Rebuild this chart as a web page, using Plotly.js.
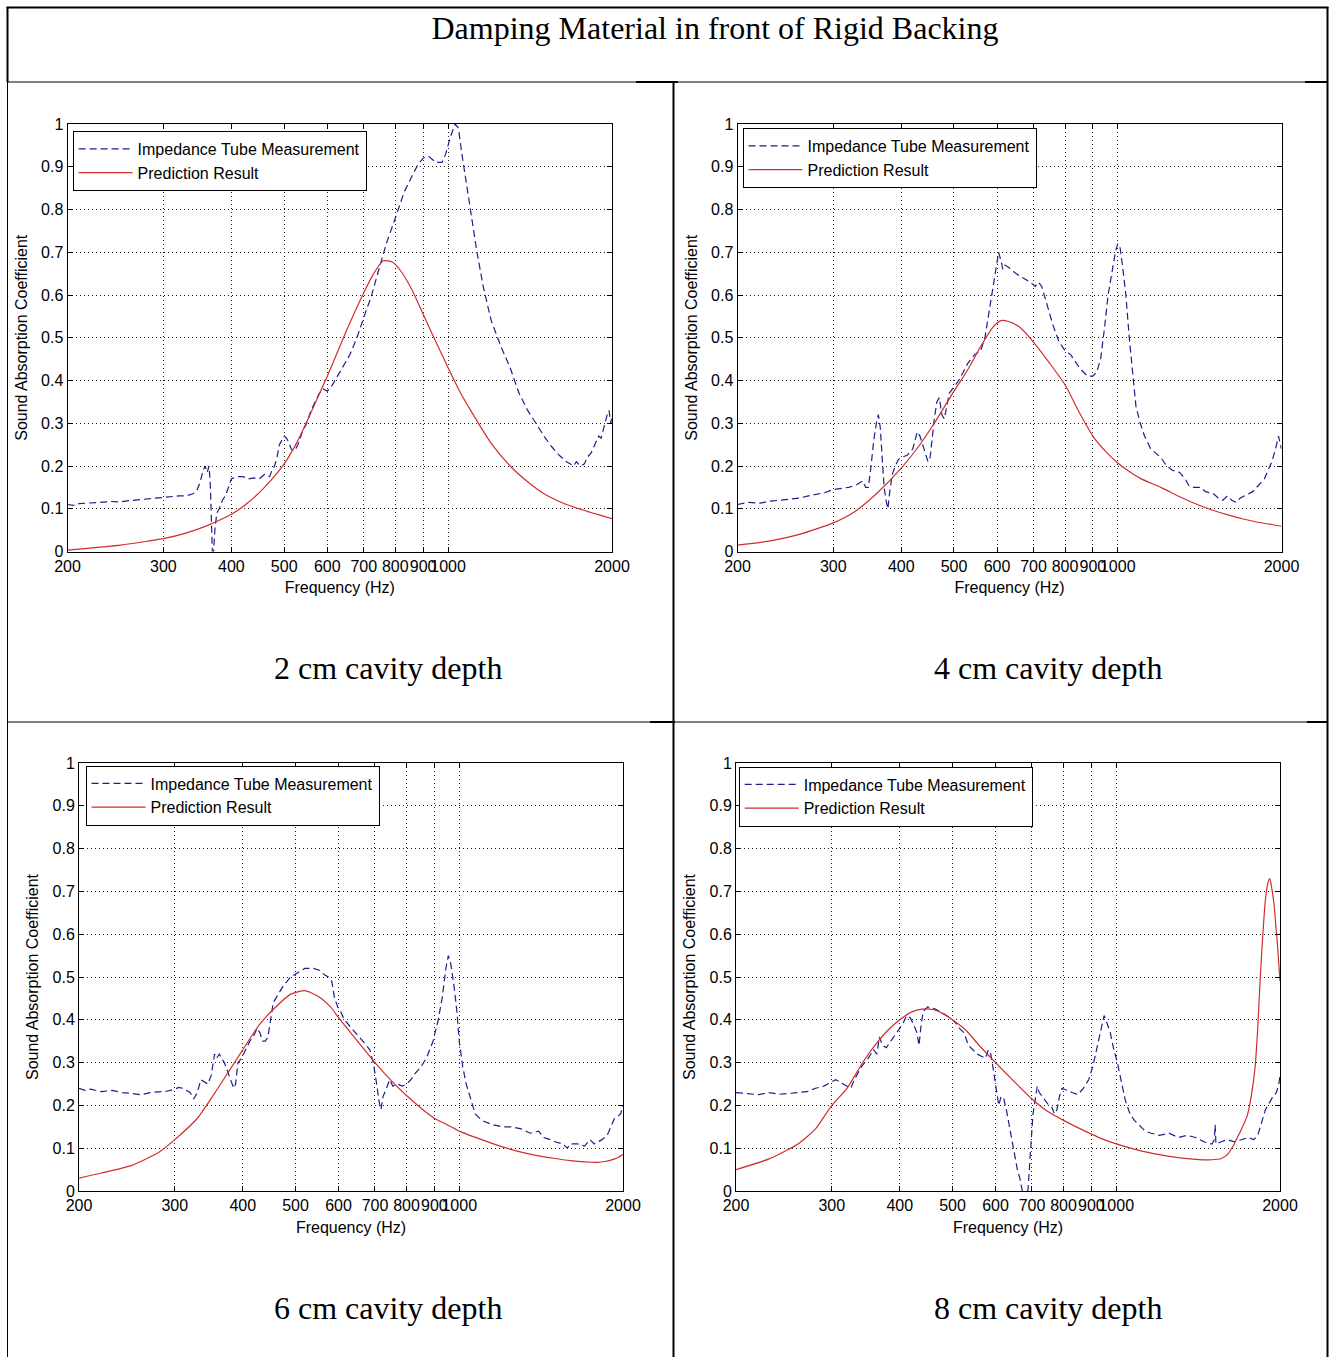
<!DOCTYPE html>
<html><head><meta charset="utf-8">
<script src="https://cdn.plot.ly/plotly-3.0.1.min.js"></script>
<style>html,body{margin:0;padding:0;background:#fff}#chart{width:1331px;height:1357px}</style>
</head><body><div id="chart"></div>
<script>
// ---------- text ----------
const mainTitle = 'Damping Material in front of Rigid Backing';
const captions = ['2 cm cavity depth', '4 cm cavity depth', '6 cm cavity depth', '8 cm cavity depth'];
const seriesNames = ['Impedance Tube Measurement', 'Prediction Result'];
const xTitle = 'Frequency (Hz)';
const yTitle = 'Sound Absorption Coefficient';
const xTickVals = [200, 300, 400, 500, 600, 700, 800, 900, 1000, 2000];
const xTickText = ['200', '300', '400', '500', '600', '700', '800', '900', '1000', '2000'];
const yTickVals = [0, 0.1, 0.2, 0.3, 0.4, 0.5, 0.6, 0.7, 0.8, 0.9, 1];
const yTickText = ['0', '0.1', '0.2', '0.3', '0.4', '0.5', '0.6', '0.7', '0.8', '0.9', '1'];

// ---------- 2 cm ----------
const f2Meas = [200,205,210,220,230,240,250,260,270,280,290,300,310,320,330,340,345,350,355,358,361,364,366,368,369,371,373,376,380,385,390,395,400,410,420,430,440,450,460,470,475,480,485,490,500,505,510,515,520,525,530,540,550,560,570,580,590,600,610,620,640,660,680,700,710,720,735,750,770,800,830,860,880,900,920,950,975,990,1010,1030,1045,1060,1080,1100,1130,1160,1200,1250,1300,1350,1400,1450,1500,1550,1600,1650,1700,1720,1750,1780,1800,1830,1860,1890,1910,1930,1960,1975,1990,2000];
const a2Meas = [0.11,0.108,0.112,0.113,0.115,0.117,0.116,0.119,0.121,0.122,0.125,0.126,0.127,0.13,0.13,0.135,0.14,0.16,0.19,0.2,0.185,0.2,0.15,0.05,0.0,0.0,0.05,0.09,0.1,0.12,0.13,0.15,0.17,0.175,0.175,0.17,0.172,0.17,0.18,0.175,0.19,0.2,0.22,0.25,0.27,0.265,0.255,0.24,0.235,0.24,0.25,0.28,0.3,0.33,0.35,0.37,0.38,0.375,0.385,0.4,0.43,0.46,0.5,0.55,0.57,0.59,0.63,0.67,0.72,0.78,0.84,0.88,0.905,0.92,0.925,0.91,0.91,0.93,0.97,1.0,0.99,0.93,0.86,0.79,0.7,0.62,0.54,0.48,0.43,0.37,0.33,0.3,0.27,0.245,0.225,0.21,0.2,0.21,0.2,0.205,0.22,0.23,0.25,0.27,0.265,0.29,0.32,0.33,0.3,0.32];
const f2Pred = [200,220,250,280,300,330,360,400,430,460,500,530,560,600,650,700,730,760,790,820,860,900,950,1000,1050,1100,1200,1300,1400,1500,1600,1700,1800,1900,2000];
const a2Pred = [0.003,0.008,0.015,0.024,0.03,0.043,0.06,0.087,0.115,0.15,0.205,0.26,0.325,0.41,0.515,0.605,0.65,0.68,0.677,0.655,0.61,0.555,0.49,0.43,0.375,0.33,0.253,0.2,0.163,0.135,0.117,0.104,0.094,0.085,0.077];

// ---------- 4 cm ----------
const f4Meas = [200,210,220,230,240,250,260,270,280,290,300,310,320,330,335,340,344,348,352,356,360,363,366,369,372,375,378,381,385,390,395,400,410,420,428,433,438,443,448,452,456,460,465,470,475,480,485,490,500,510,520,530,545,560,570,580,590,598,604,610,615,620,630,650,670,690,705,715,725,740,760,780,800,820,850,880,900,915,930,945,960,975,990,1000,1010,1020,1035,1050,1065,1080,1100,1120,1150,1175,1200,1230,1260,1300,1330,1350,1380,1420,1450,1500,1530,1560,1590,1620,1650,1680,1710,1740,1770,1800,1830,1860,1890,1920,1950,1975,1990,2000];
const a4Meas = [0.11,0.115,0.113,0.118,0.12,0.122,0.125,0.13,0.135,0.138,0.145,0.148,0.15,0.155,0.16,0.165,0.15,0.15,0.2,0.26,0.3,0.32,0.29,0.22,0.15,0.12,0.1,0.14,0.18,0.2,0.215,0.22,0.225,0.24,0.28,0.27,0.25,0.23,0.21,0.22,0.27,0.31,0.35,0.36,0.32,0.31,0.34,0.37,0.385,0.4,0.42,0.44,0.46,0.47,0.5,0.56,0.62,0.67,0.7,0.68,0.66,0.67,0.665,0.65,0.64,0.63,0.62,0.63,0.62,0.58,0.53,0.49,0.47,0.46,0.43,0.41,0.41,0.42,0.45,0.52,0.6,0.65,0.7,0.72,0.71,0.67,0.6,0.5,0.42,0.34,0.3,0.27,0.24,0.23,0.22,0.2,0.19,0.185,0.17,0.155,0.15,0.15,0.14,0.135,0.125,0.12,0.13,0.12,0.115,0.125,0.13,0.135,0.14,0.15,0.16,0.17,0.19,0.21,0.24,0.27,0.25,0.24];
const f4Pred = [200,230,260,300,330,360,400,430,460,500,530,560,590,610,630,660,700,750,800,850,900,950,1000,1050,1100,1200,1300,1400,1500,1600,1700,1800,1900,2000];
const a4Pred = [0.015,0.025,0.04,0.067,0.095,0.135,0.195,0.245,0.3,0.375,0.425,0.48,0.525,0.54,0.538,0.525,0.49,0.44,0.39,0.325,0.27,0.234,0.207,0.187,0.171,0.15,0.128,0.11,0.096,0.085,0.076,0.069,0.064,0.059];

// ---------- 6 cm ----------
const f6Meas = [200,205,210,220,230,240,250,260,270,280,290,300,305,310,315,320,325,330,335,340,345,350,355,358,362,366,370,375,380,385,388,392,398,405,412,418,425,430,435,440,445,450,455,465,475,490,505,520,540,555,565,575,583,590,598,605,615,630,650,670,685,695,705,712,718,724,735,745,755,770,785,800,815,830,850,870,895,915,930,945,955,965,978,990,1000,1015,1030,1050,1070,1100,1150,1200,1250,1300,1350,1400,1430,1470,1500,1550,1580,1600,1650,1700,1740,1770,1800,1830,1870,1900,1930,1960,1980,2000];
const a6Meas = [0.24,0.235,0.238,0.232,0.235,0.23,0.228,0.225,0.23,0.232,0.233,0.238,0.242,0.24,0.235,0.23,0.215,0.23,0.26,0.255,0.25,0.27,0.32,0.31,0.32,0.31,0.3,0.28,0.26,0.24,0.25,0.3,0.31,0.33,0.35,0.36,0.38,0.37,0.35,0.35,0.36,0.4,0.44,0.46,0.48,0.5,0.51,0.52,0.52,0.515,0.505,0.5,0.49,0.45,0.43,0.42,0.4,0.385,0.365,0.345,0.33,0.3,0.25,0.21,0.19,0.22,0.24,0.26,0.245,0.25,0.245,0.25,0.26,0.275,0.29,0.31,0.35,0.4,0.45,0.52,0.55,0.53,0.48,0.42,0.35,0.29,0.25,0.215,0.18,0.165,0.155,0.15,0.15,0.145,0.135,0.14,0.125,0.12,0.115,0.11,0.1,0.11,0.11,0.105,0.12,0.11,0.115,0.12,0.13,0.15,0.17,0.175,0.18,0.2];
const f6Pred = [200,220,250,280,300,330,360,400,430,460,490,520,550,580,600,650,700,750,800,850,900,950,1000,1100,1200,1300,1400,1500,1600,1700,1800,1850,1900,1950,2000];
const a6Pred = [0.03,0.042,0.06,0.09,0.12,0.17,0.24,0.33,0.39,0.43,0.46,0.468,0.455,0.43,0.405,0.35,0.3,0.258,0.223,0.194,0.17,0.155,0.14,0.12,0.103,0.091,0.082,0.076,0.071,0.068,0.067,0.069,0.072,0.077,0.085];

// ---------- 8 cm ----------
const f8Meas = [200,210,220,230,240,250,260,270,280,290,300,305,310,315,320,325,330,340,350,358,363,367,372,378,385,395,405,412,418,424,430,434,438,442,450,465,480,495,505,515,525,535,545,555,565,575,582,588,595,602,608,614,620,628,638,648,658,665,672,688,693,698,703,710,716,722,732,742,752,762,770,778,786,795,810,830,850,870,890,905,920,935,950,960,975,990,1005,1020,1040,1060,1080,1100,1130,1160,1200,1250,1300,1350,1400,1450,1480,1500,1515,1520,1525,1560,1600,1650,1700,1750,1790,1820,1850,1880,1910,1940,1970,1990,2000];
const a8Meas = [0.23,0.228,0.225,0.23,0.226,0.228,0.23,0.232,0.24,0.245,0.255,0.26,0.255,0.25,0.245,0.24,0.26,0.29,0.31,0.33,0.32,0.36,0.34,0.335,0.35,0.37,0.39,0.41,0.405,0.39,0.37,0.34,0.39,0.42,0.43,0.425,0.415,0.405,0.395,0.38,0.37,0.34,0.33,0.32,0.315,0.31,0.33,0.32,0.28,0.24,0.2,0.22,0.22,0.19,0.14,0.09,0.05,0.03,0.0,0.0,0.05,0.12,0.18,0.22,0.245,0.23,0.22,0.21,0.2,0.195,0.18,0.19,0.22,0.24,0.235,0.23,0.225,0.24,0.26,0.29,0.33,0.37,0.41,0.395,0.37,0.33,0.3,0.26,0.21,0.18,0.165,0.155,0.14,0.135,0.13,0.135,0.125,0.13,0.125,0.115,0.11,0.11,0.12,0.155,0.11,0.115,0.12,0.115,0.12,0.125,0.12,0.13,0.16,0.19,0.205,0.22,0.23,0.25,0.27];
const f8Pred = [200,230,260,280,300,320,340,360,380,400,420,440,460,480,500,530,560,600,650,700,750,800,850,900,950,1000,1100,1200,1300,1400,1500,1560,1600,1640,1670,1700,1740,1770,1800,1820,1840,1860,1880,1900,1915,1930,1950,1965,1980,2000];
const a8Pred = [0.05,0.075,0.11,0.145,0.2,0.24,0.295,0.34,0.375,0.4,0.418,0.425,0.424,0.415,0.4,0.375,0.34,0.3,0.255,0.215,0.185,0.165,0.148,0.133,0.12,0.11,0.095,0.085,0.078,0.074,0.073,0.076,0.085,0.105,0.125,0.145,0.175,0.22,0.29,0.38,0.5,0.6,0.68,0.72,0.73,0.71,0.67,0.62,0.57,0.49];

// ---------- geometry (pixels) ----------
const W = 1331, H = 1357;
const px = v => v / W;
const py = v => 1 - v / H;
const FONT = '"Liberation Sans", Arial, Helvetica, sans-serif';
const SERIF = '"Liberation Serif", "Times New Roman", Times, serif';
const BLUE = 'rgb(30,30,140)';
const RED = 'rgb(210,45,45)';

const panels = [
  {fm: f2Meas, am: a2Meas, fp: f2Pred, ap: a2Pred, x: [67.5, 612], y: [124, 551.5], leg: [72.6, 131], cap: [388, 668]},
  {fm: f4Meas, am: a4Meas, fp: f4Pred, ap: a4Pred, x: [737.5, 1281.5], y: [124, 551.5], leg: [742.5, 128], cap: [1048, 668]},
  {fm: f6Meas, am: a6Meas, fp: f6Pred, ap: a6Pred, x: [79, 623], y: [763, 1191], leg: [85.5, 765.5], cap: [388, 1308]},
  {fm: f8Meas, am: a8Meas, fp: f8Pred, ap: a8Pred, x: [736, 1280], y: [763, 1191], leg: [738.7, 766.5], cap: [1048, 1308]}
];

const data = [];
const layout = {
  width: W, height: H,
  margin: {l: 0, r: 0, t: 0, b: 0, pad: 0, autoexpand: false},
  paper_bgcolor: '#fff', plot_bgcolor: '#fff',
  showlegend: true,
  title: {text: mainTitle, x: px(715), xref: 'paper', xanchor: 'center', y: py(28), yref: 'container', yanchor: 'middle',
          font: {family: SERIF, size: 32, color: '#000'}},
  annotations: [], shapes: []
};

panels.forEach((p, i) => {
  const n = i === 0 ? '' : String(i + 1);
  const legName = 'legend' + n;
  data.push({x: p.fm, y: p.am, type: 'scatter', mode: 'lines', name: seriesNames[0], xaxis: 'x' + n, yaxis: 'y' + n,
             legend: legName, line: {color: BLUE, width: 1.2, dash: '7px,4px'}, hoverinfo: 'skip'});
  data.push({x: p.fp, y: p.ap, type: 'scatter', mode: 'lines', name: seriesNames[1], xaxis: 'x' + n, yaxis: 'y' + n,
             legend: legName, line: {color: RED, width: 1.2, shape: 'spline', smoothing: 0.6}, hoverinfo: 'skip'});
  const common = {ticks: 'inside', ticklen: 5, tickcolor: '#000', tickwidth: 1, showline: true, linecolor: '#000', linewidth: 1,
                  mirror: 'ticks', showgrid: true, gridcolor: '#222', gridwidth: 1, griddash: '1px,3px', zeroline: false,
                  tickfont: {family: FONT, size: 16, color: '#000'}, fixedrange: true, automargin: false};
  layout['xaxis' + n] = Object.assign({}, common, {
    type: 'log', domain: [px(p.x[0]), px(p.x[1])], anchor: 'y' + n,
    range: [Math.log10(200), Math.log10(2000)], tickmode: 'array', tickvals: xTickVals, ticktext: xTickText, tickangle: 0,
    title: {text: xTitle, font: {family: FONT, size: 16, color: '#000'}, standoff: 8}
  });
  layout['yaxis' + n] = Object.assign({}, common, {
    domain: [py(p.y[1]), py(p.y[0])], anchor: 'x' + n, range: [0, 1],
    tickmode: 'array', tickvals: yTickVals, ticktext: yTickText,
    title: {text: yTitle, font: {family: FONT, size: 16, color: '#000'}, standoff: 9}
  });
  layout[legName] = {x: px(p.leg[0]), y: py(p.leg[1]), xanchor: 'left', yanchor: 'top', xref: 'paper', yref: 'paper',
                     bgcolor: '#fff', bordercolor: '#000', borderwidth: 1, itemwidth: 54, tracegroupgap: 0,
                     traceorder: 'normal', font: {family: FONT, size: 16, color: '#000'}};
  layout.annotations.push({text: captions[i], x: px(p.cap[0]), y: py(p.cap[1]), xref: 'paper', yref: 'paper',
                           xanchor: 'center', yanchor: 'middle', showarrow: false,
                           font: {family: SERIF, size: 32, color: '#000'}});
});

// table rules
function rule(x0, y0, x1, y1, w) {
  layout.shapes.push({type: 'line', xref: 'paper', yref: 'paper', x0: px(x0), y0: py(y0), x1: px(x1), y1: py(y1),
                      line: {color: '#000', width: w}, layer: 'above'});
}
rule(6.5, 7.5, 1328.5, 7.5, 2.2);      // top border
rule(7.5, 7, 7.5, 82, 2);              // left border (title row)
rule(7.5, 82, 7.5, 1357, 1);           // left border (body)
rule(1327.5, 7, 1327.5, 1357, 2);      // right border
rule(7.5, 82, 1327.5, 82, 1);          // under title
rule(636, 82, 678, 82, 2);
rule(1305, 82, 1327.5, 82, 2);
rule(673.5, 82, 673.5, 1357, 2);       // middle vertical
rule(7.5, 722, 1327.5, 722, 1);        // between rows
rule(650, 722, 675, 722, 2);
rule(1307, 722, 1327.5, 722, 2);

Plotly.newPlot('chart', data, layout, {staticPlot: true, displayModeBar: false});
</script></body></html>
